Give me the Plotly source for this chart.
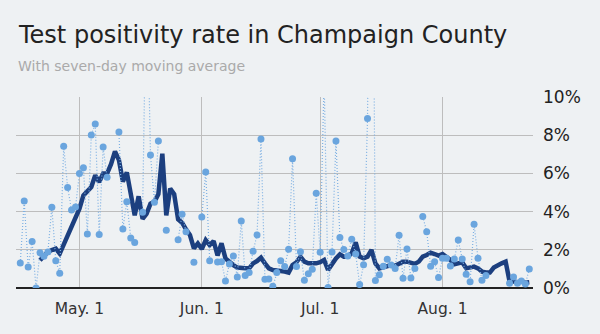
import pandas as pd
import plotly.graph_objects as go

# ---- data ----
start_date = "2020-04-16"
daily_rate = [
    1.31, 4.55, 1.10, 2.43, 0.00, 1.85, 1.66, 1.89, 4.23, 1.43,
    0.77, 7.42, 5.26, 4.08, 4.24, 6.00, 6.30, 2.83, 8.01, 8.59,
    2.80, 7.38, 5.80, None, None, 8.17, 3.09, 4.52, 2.62, 2.38,
    None, 3.96, 17.0, 6.96, 4.49, 7.70, None, 3.02, None, None,
    2.53, 3.86, 2.95, None, 1.35, None, 3.72, 6.07, 1.43, None,
    1.36, 1.38, 0.37, 1.26, 1.68, 0.58, 3.51, 0.65, 0.81, 1.92,
    2.78, 7.80, 0.46, 0.47, 0.09, 0.81, 1.43, 1.12, 2.03, 6.77,
    1.12, 1.90, 0.40, 0.75, 0.98, 4.96, 1.87, 11.0, 0.02, 1.88,
    7.70, 2.64, 2.01, 1.68, 2.55, 1.78, 0.18, 1.22, 8.88, 33.0,
    0.39, 0.70, 1.14, 1.50, 1.20, 1.02, 2.76, 0.51, 2.04, 0.52,
    1.02, None, 3.74, 2.95, 1.14, 1.38, 0.55, 1.56, 1.56, 1.15,
    1.52, 2.51, 1.52, 0.72, 0.33, 3.34, 1.56, 0.40, 0.66, None,
    None, None, None, None, 0.25, 0.58, 0.25, 0.37, 0.21, 0.99,
]
moving_avg = [
    None, None, None, None, None, 1.45, 1.71, 1.89, 1.99, 2.06,
    1.80, 2.27, 2.76, 3.28, 3.72, 4.15, 4.85, 5.06, 5.29, 5.90,
    5.55, 5.99, 5.99, 6.48, 7.15, 6.70, 5.57, 6.05, 5.04, 3.80,
    4.80, 3.62, 3.88, 4.42, 4.51, 4.92, 7.03, 3.80, 5.20, 4.92,
    3.60, 3.42, 3.07, 2.77, 2.07, 2.33, 2.04, 2.51, 2.25, 2.46,
    1.70, 2.34, 1.55, 1.35, 1.20, 1.07, 1.03, 1.03, 1.03, 1.29,
    1.41, 1.59, 1.29, 1.03, 0.94, 0.94, 0.89, 0.86, 0.81, 1.20,
    1.35, 1.64, 1.38, 1.29, 1.29, 1.29, 1.35, 1.47, 0.94, 1.29,
    1.55, 1.76, 1.64, 1.64, 1.82, 2.39, 1.64, 1.55, 1.64, 1.99,
    1.29, 1.03, 1.07, 1.12, 1.20, 1.17, 1.29, 1.38, 1.38, 1.35,
    1.26, 1.38, 1.64, 1.73, 1.85, 1.78, 1.70, 1.78, 1.64, 1.47,
    1.24, 1.29, 1.35, 1.03, 1.07, 1.12, 1.03, 0.86, 0.81, 0.81,
    1.07, 1.20, 1.29, 1.38, 0.34, 0.34, 0.30, 0.34, 0.28, 0.30,
]
tick_dates = ["2020-05-01", "2020-06-01", "2020-07-01", "2020-08-01"]
tick_labels = ["May. 1", "Jun. 1", "Jul. 1", "Aug. 1"]
y_ticks = [0, 2, 4, 6, 8, 10]
y_tick_labels = ["0%", "2%", "4%", "6%", "8%", "10%"]
title_text = "Test positivity rate in Champaign County"
subtitle_text = "With seven-day moving average"

dates = pd.date_range(start_date, periods=len(daily_rate), freq="D")

BG = "#eef1f3"
fig = go.Figure()
fig.add_trace(go.Scatter(
    x=dates, y=moving_avg, mode="lines",
    line=dict(color="#1c3f7f", width=4.5),
    connectgaps=False, hoverinfo="skip",
))
fig.add_trace(go.Scatter(
    x=dates, y=daily_rate, mode="lines+markers",
    line=dict(color="#7db0e3", width=1.2, dash="1px,2px"),
    marker=dict(color="#6aa5de", size=7),
    connectgaps=False, hoverinfo="skip",
))

fig.update_layout(
    width=600, height=334,
    margin=dict(l=16, r=67, t=97, b=46, pad=0),
    paper_bgcolor=BG, plot_bgcolor=BG,
    showlegend=False,
    font=dict(family="DejaVu Sans", color="#222"),
    xaxis=dict(
        type="date",
        range=["2020-04-14 22:00", "2020-08-23 22:30"],
        tickmode="array", tickvals=tick_dates, ticktext=tick_labels,
        showgrid=True, gridcolor="#bdbdbd", gridwidth=1,
        zeroline=False, showline=False, ticks="",
        tickfont=dict(size=15.5, color="#333"),
        ticklabelstandoff=9,
        fixedrange=True,
    ),
    yaxis=dict(
        side="right", range=[0, 10],
        tickmode="array", tickvals=y_ticks, ticktext=y_tick_labels,
        showgrid=True, gridcolor="#bdbdbd", gridwidth=1,
        zeroline=True, zerolinecolor="#222", zerolinewidth=2,
        showline=False, ticks="",
        tickfont=dict(size=17, color="#222"),
        ticklabelstandoff=9,
        fixedrange=True,
    ),
    annotations=[
        dict(text=title_text, xref="paper", yref="paper",
             x=0, y=(287.7 - 35) / 191, xanchor="left", yanchor="middle",
             showarrow=False, font=dict(size=24, color="#222")),
        dict(text=subtitle_text, xref="paper", yref="paper",
             x=0, y=(287.7 - 65.5) / 191, xanchor="left", yanchor="middle",
             showarrow=False, font=dict(size=14, color="#aaaaaa")),
    ],
)

fig.write_html("out.html")
